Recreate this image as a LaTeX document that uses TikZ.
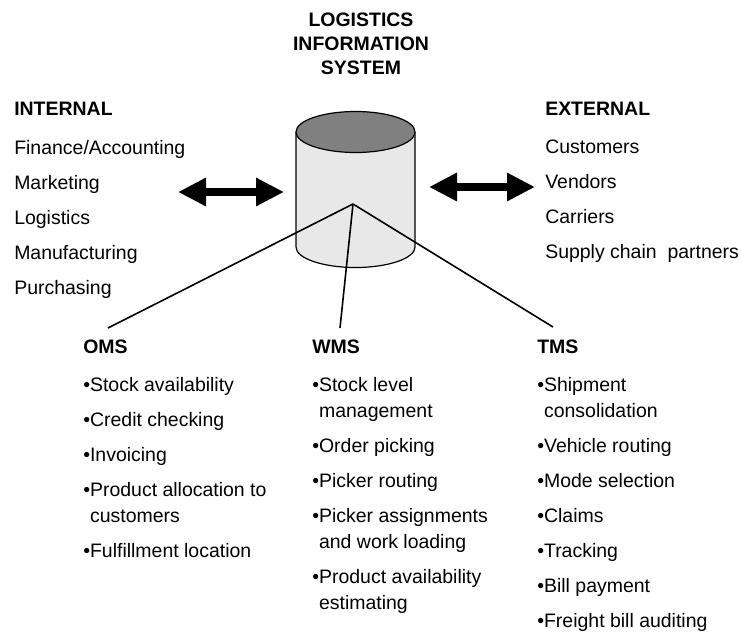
\documentclass[tikz,border=0pt]{standalone}
\usepackage{fontspec}
\setmainfont{Liberation Sans}
\usetikzlibrary{arrows.meta,positioning}

\tikzset{
  txt/.style={inner sep=0pt, align=left, font=\fontsize{14.6}{26.25}\selectfont},
  hdr/.style={txt, font=\fontsize{14.6}{18}\selectfont\bfseries},
  lst/.style={txt, font=\fontsize{14.6}{19.5}\selectfont},
  spoke/.style={line width=1.2pt},
  bigarrow/.style={line width=6.5pt,
    {Triangle[length=21pt,width=20pt]}-{Triangle[length=21pt,width=20pt]}},
  body/.style={fill=black!9},
  lid/.style={fill=black!50, draw=black, line width=0.9pt},
}
\newcommand{\bul}{\textbullet}
\newcommand{\ind}{\phantom{\textbullet}}

\begin{document}
\begin{tikzpicture}[x=0.75pt,y=-0.75pt]
  \useasboundingbox (0,0) rectangle (742,632);

  % database cylinder
  \fill[body] (296,132) rectangle (415,247);
  \fill[body] (355.5,247) ellipse (59.5 and 20.5);
  \draw[line width=0.9pt] (296,132) -- (296,247) arc (180:0:59.5 and 20.5) -- (415,132);
  \filldraw[lid] (355.5,132) ellipse (59.5 and 20.5);
  \coordinate (Hub) at (353,204);

  \node[hdr, align=center] (LIS) at (361,44) {LOGISTICS\\INFORMATION\\SYSTEM};

  % internal / external (lists hang from their last line)
  \node[hdr, anchor=base west] (INT) at (14,115) {INTERNAL};
  \node[txt, below=134.25pt of INT.base west, anchor=base west] (IntList)
    {Finance/Accounting\\Marketing\\Logistics\\Manufacturing\\Purchasing};
  \node[hdr, anchor=base west] (EXT) at (545,115) {EXTERNAL};
  \node[txt, below=107.25pt of EXT.base west, anchor=base west] (ExtList)
    {Customers\\Vendors\\Carriers\\Supply chain~ partners};

  \coordinate (IntL) at (178,192);
  \coordinate (IntR) at (284,192);
  \coordinate (ExtL) at (429,187);
  \coordinate (ExtR) at (535,187);
  \path (IntL) edge[bigarrow] (IntR)
        (ExtL) edge[bigarrow] (ExtR);

  % the three systems
  \node[hdr, anchor=base west] (OMS) at (83,353) {OMS};
  \node[lst, below=153pt of OMS.base west, anchor=base west] (OmsList)
    {\bul Stock availability\\[6.75pt]
     \bul Credit checking\\[6.75pt]
     \bul Invoicing\\[6.75pt]
     \bul Product allocation to\\
     \ind customers\\[6.75pt]
     \bul Fulfillment location};
  \node[hdr, anchor=base west] (WMS) at (312,353) {WMS};
  \node[lst, below=192pt of WMS.base west, anchor=base west] (WmsList)
    {\bul Stock level\\
     \ind management\\[6.75pt]
     \bul Order picking\\[6.75pt]
     \bul Picker routing\\[6.75pt]
     \bul Picker assignments\\
     \ind and work loading\\[6.75pt]
     \bul Product availability\\
     \ind estimating};
  \node[hdr, anchor=base west] (TMS) at (537,353) {TMS};
  \node[lst, below=205.5pt of TMS.base west, anchor=base west] (TmsList)
    {\bul Shipment\\
     \ind consolidation\\[6.75pt]
     \bul Vehicle routing\\[6.75pt]
     \bul Mode selection\\[6.75pt]
     \bul Claims\\[6.75pt]
     \bul Tracking\\[6.75pt]
     \bul Bill payment\\[6.75pt]
     \bul Freight bill auditing};

  \coordinate (OmsEnd) at (108,328);
  \coordinate (WmsEnd) at (340,328);
  \coordinate (TmsEnd) at (553,327);
  \path (Hub) edge[spoke] (OmsEnd)
              edge[spoke] (WmsEnd)
              edge[spoke] (TmsEnd);
\end{tikzpicture}
\end{document}
